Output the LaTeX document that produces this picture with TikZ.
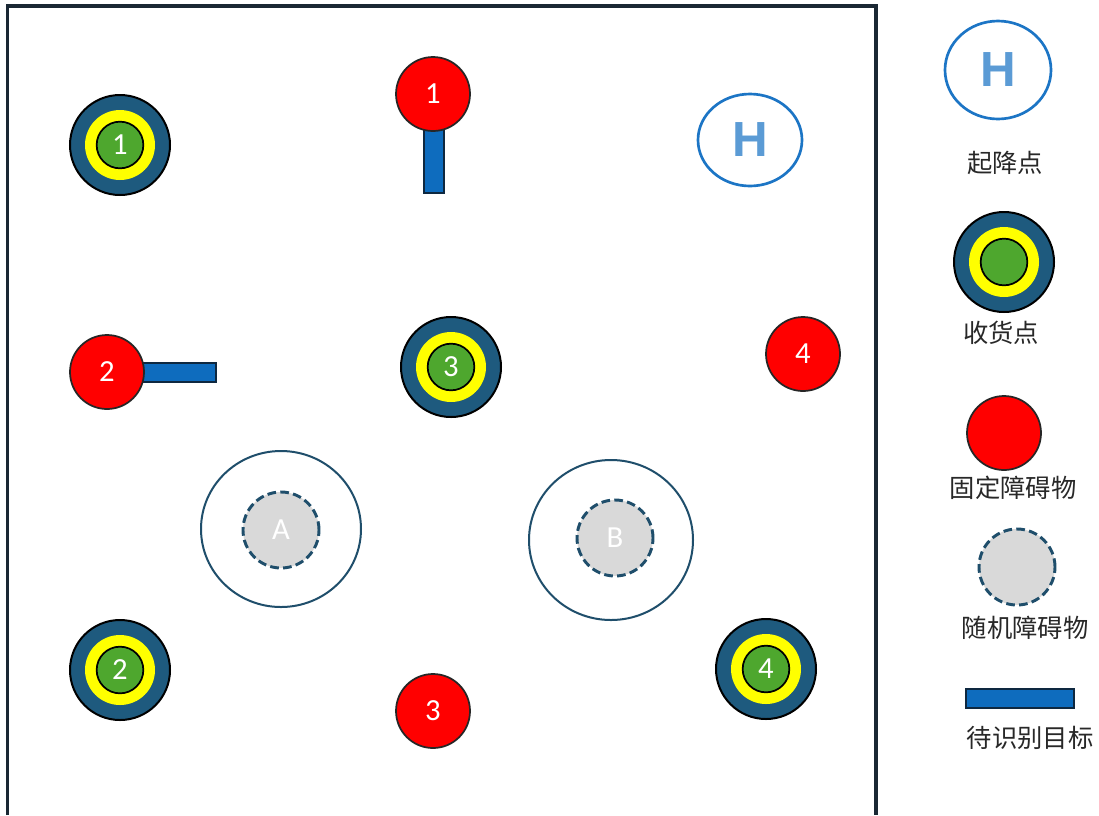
\documentclass[tikz,border=0pt]{standalone}
\usepackage{fontspec}
\setmainfont{Carlito}
\newfontfamily\cjk{Noto Sans CJK SC}
\newfontfamily\hfont{Liberation Sans}
\definecolor{ringblue}{RGB}{30,90,126}
\definecolor{ringyellow}{RGB}{255,255,0}
\definecolor{ringgreen}{RGB}{78,167,46}
\definecolor{obsred}{RGB}{255,0,0}
\definecolor{barblue}{RGB}{14,108,190}
\definecolor{bardark}{RGB}{14,40,64}
\definecolor{darkteal}{RGB}{31,78,107}
\definecolor{grayfill}{RGB}{217,217,217}
\definecolor{hline}{RGB}{28,117,197}
\definecolor{hletter}{RGB}{91,155,213}
\definecolor{frame}{RGB}{26,40,52}
\definecolor{legtext}{RGB}{40,40,40}
\tikzset{
  ringout/.style={circle,fill=ringblue,draw=black,line width=1.5pt,minimum size=75pt,inner sep=0pt},
  ringmid/.style={circle,fill=ringyellow,draw=none,minimum size=52.5pt,inner sep=0pt},
  ringin/.style={circle,fill=ringgreen,draw=black,line width=1.3pt,minimum size=35pt,inner sep=0pt,
    text=white,font=\fontsize{23}{23}\selectfont},
  redobs/.style={circle,fill=obsred,draw=black!85,line width=1.3pt,minimum size=55.5pt,inner sep=0pt,
    text=white,font=\fontsize{23}{23}\selectfont},
  randobs/.style={circle,fill=grayfill,draw=darkteal,line width=2.2pt,dash pattern=on 6.5pt off 3.2pt,
    minimum size=57pt,inner sep=0pt,text=white,font=\fontsize{23}{23}\selectfont},
  zone/.style={ellipse,draw=darkteal,line width=1.5pt,inner sep=0pt},
  barstyle/.style={fill=barblue,draw=bardark,line width=1.3pt},
  hpad/.style={ellipse,draw=hline,line width=2pt,inner sep=0pt,text=hletter,
    font=\hfont\bfseries\fontsize{37}{37}\selectfont},
  legend/.style={text=legtext,font=\cjk\fontsize{19}{19}\selectfont,inner sep=0pt},
}
\usetikzlibrary{shapes.geometric}
\begin{document}
\begin{tikzpicture}[x=0.75pt,y=-0.75pt]
\useasboundingbox (0,0) rectangle (1099,815);
\fill[white] (0,0) rectangle (1099,815);
% frame (bottom edge off page)
\draw[frame,line width=2.4pt] (7.5,815) -- (7.5,6) -- (876,6) -- (876,815);

% receive points
\foreach \n/\x/\y in {1/120/145, 2/120/670, 3/451/367, 4/766/669}{
  \node[ringout] (rpo\n) at (\x,\y) {};
  \node[ringmid] (rpm\n) at (\x,\y) {};
  \node[ringin]  (rp\n)  at (\x,\y) {\n};
}

% targets (bars) and fixed obstacles
\draw[barstyle] (424,125) rectangle (444,193);
\draw[barstyle] (138,363) rectangle (216,382);
\node[redobs] (ob1) at (433,94) {1};
\node[redobs] (ob2) at (107,372) {2};
\node[redobs] (ob3) at (433,711) {3};
\node[redobs] (ob4) at (803,354) {4};

% random obstacle zones
\node[zone,minimum width=120pt,minimum height=117pt] (zA) at (281,529) {};
\node[randobs] (rA) at (281,530) {A};
\node[zone,minimum width=123pt,minimum height=120pt] (zB) at (611,540) {};
\node[randobs] (rB) at (615,538) {B};

% helipad
\node[hpad,minimum width=78pt,minimum height=69pt] (H) at (750,140) {H};

% legend
\node[hpad,minimum width=79.5pt,minimum height=73.5pt] (lH) at (998,70) {H};
\node[legend] (t1) at (1005,163) {起降点};
\node[ringout] (lro) at (1004,262) {};
\node[ringmid] (lrm) at (1004,262) {};
\node[ringin] (lri) at (1004,262) {};
\node[legend] (t2) at (1001,333) {收货点};
\node[redobs] (lob) at (1004,433) {};
\node[legend] (t3) at (1013,488) {固定障碍物};
\node[randobs] (lra) at (1017,567) {};
\node[legend] (t4) at (1025,628) {随机障碍物};
\draw[barstyle] (966,689) rectangle (1074,708);
\node[legend] (t5) at (1030,738) {待识别目标};
\end{tikzpicture}
\end{document}
